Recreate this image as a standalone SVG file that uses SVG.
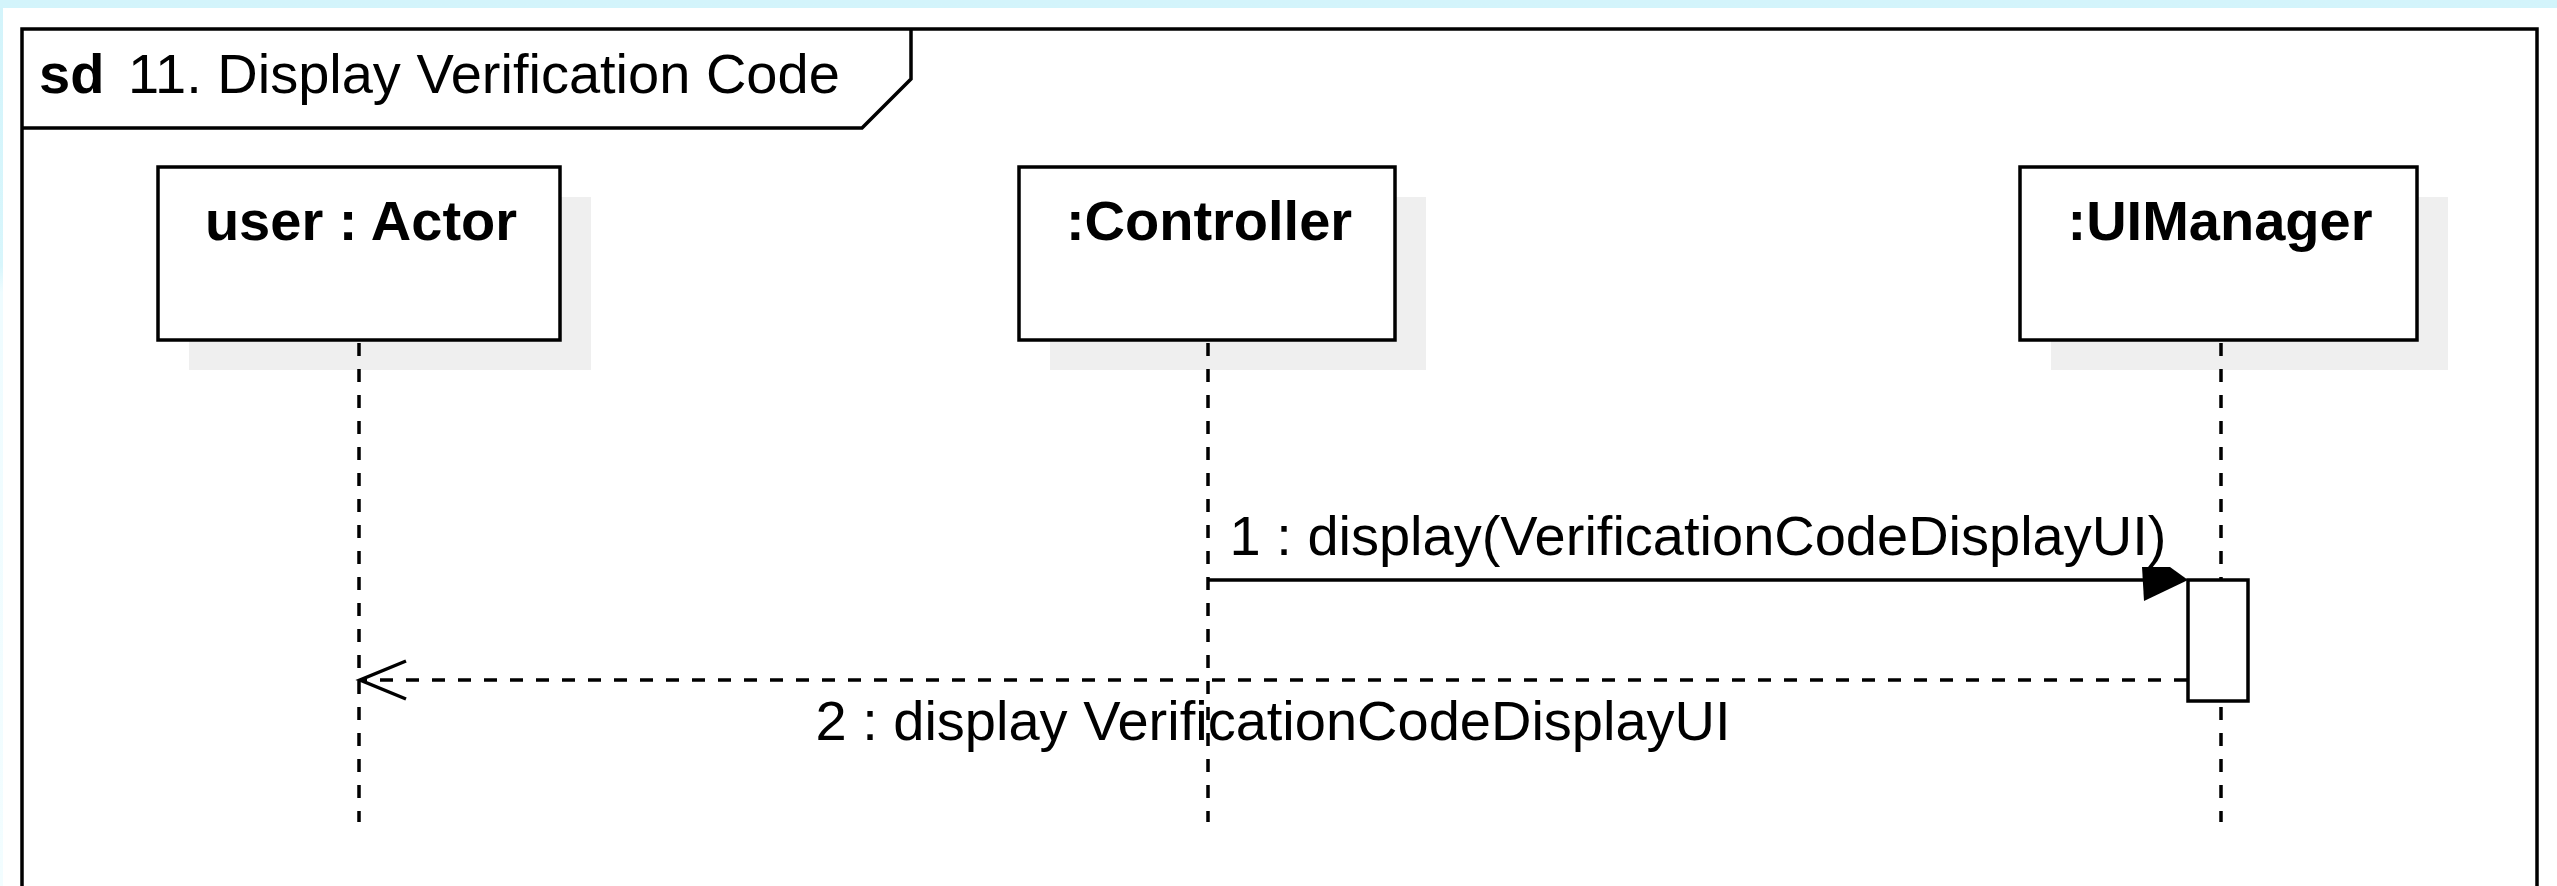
<svg xmlns="http://www.w3.org/2000/svg" width="2557" height="886" viewBox="0 0 2557 886">
  <defs>
    <linearGradient id="bgGrad" x1="0" y1="0" x2="0" y2="1">
      <stop offset="0" stop-color="#d3f4fb"/>
      <stop offset="0.3" stop-color="#d8f6fc"/>
      <stop offset="0.33" stop-color="#effcff"/>
      <stop offset="1" stop-color="#f2fdff"/>
    </linearGradient>
    <style>
      .frame { fill: none; stroke: #000; stroke-width: 3.5; }
      .box { fill: #fff; stroke: #000; stroke-width: 3.5; }
      .shadow { fill: #efefef; stroke: none; }
      .lifeline { stroke: #000; stroke-width: 3.5; stroke-dasharray: 13 13; fill: none; }
      .activation { fill: #fff; stroke: #000; stroke-width: 3.5; }
      .call { stroke: #000; stroke-width: 3.5; fill: none; }
      .reply { stroke: #000; stroke-width: 3.5; stroke-dasharray: 13 13; fill: none; }
      .head-open { stroke: #000; stroke-width: 3.5; fill: none; stroke-linejoin: miter; }
      .head-fill { fill: #000; stroke: none; }
      .name { font-family: "Liberation Sans", Arial, sans-serif; font-size: 56px; font-weight: bold; fill: #000; text-anchor: middle; }
      .msg { font-family: "Liberation Sans", Arial, sans-serif; font-size: 56px; fill: #000; text-anchor: middle; }
      .title { font-family: "Liberation Sans", Arial, sans-serif; font-size: 56px; fill: #000; }
    </style>
  </defs>

  <!-- page background -->
  <rect x="0" y="0" width="2557" height="886" fill="url(#bgGrad)"/>
  <rect x="3" y="8" width="2554" height="878" fill="#fff"/>

  <!-- sequence diagram frame -->
  <g id="frame">
    <rect class="frame" x="22" y="29" width="2515" height="900"/>
    <path class="frame" d="M22 128 H862 L911 79 V29"/>
    <text class="title" x="39" y="93" font-weight="bold">sd</text>
    <text class="title" x="128" y="93">11. Display Verification Code</text>
  </g>

  <!-- lifeline: user -->
  <g id="user">
    <rect class="shadow" x="189" y="197" width="402" height="173"/>
    <rect class="box" x="158" y="167" width="402" height="173"/>
    <text class="name" x="361" y="240">user : Actor</text>
    <line class="lifeline" x1="359" y1="343" x2="359" y2="822"/>
  </g>

  <!-- lifeline: controller -->
  <g id="controller">
    <rect class="shadow" x="1050" y="197" width="376" height="173"/>
    <rect class="box" x="1019" y="167" width="376" height="173"/>
    <text class="name" x="1209" y="240">:Controller</text>
    <line class="lifeline" x1="1208" y1="343" x2="1208" y2="822"/>
  </g>

  <!-- lifeline: UI manager -->
  <g id="uimanager">
    <rect class="shadow" x="2051" y="197" width="397" height="173"/>
    <rect class="box" x="2020" y="167" width="397" height="173"/>
    <text class="name" x="2220" y="240">:UIManager</text>
    <line class="lifeline" x1="2221" y1="343" x2="2221" y2="822"/>
    <rect class="activation" x="2188" y="580" width="60" height="121"/>
  </g>

  <!-- messages -->
  <g id="connectors">
    <line class="call" x1="1208" y1="580" x2="2150" y2="580"/>
    <polygon class="head-fill" points="2142,567 2170,567 2188,580 2144,601"/>
    <text class="msg" x="1698" y="555">1 : display(VerificationCodeDisplayUI)</text>

    <line class="reply" x1="2187" y1="680" x2="362" y2="680"/>
    <polyline class="head-open" points="406,661 360,680 406,699"/>
    <text class="msg" x="1273" y="740">2 : display VerificationCodeDisplayUI</text>
  </g>
</svg>
